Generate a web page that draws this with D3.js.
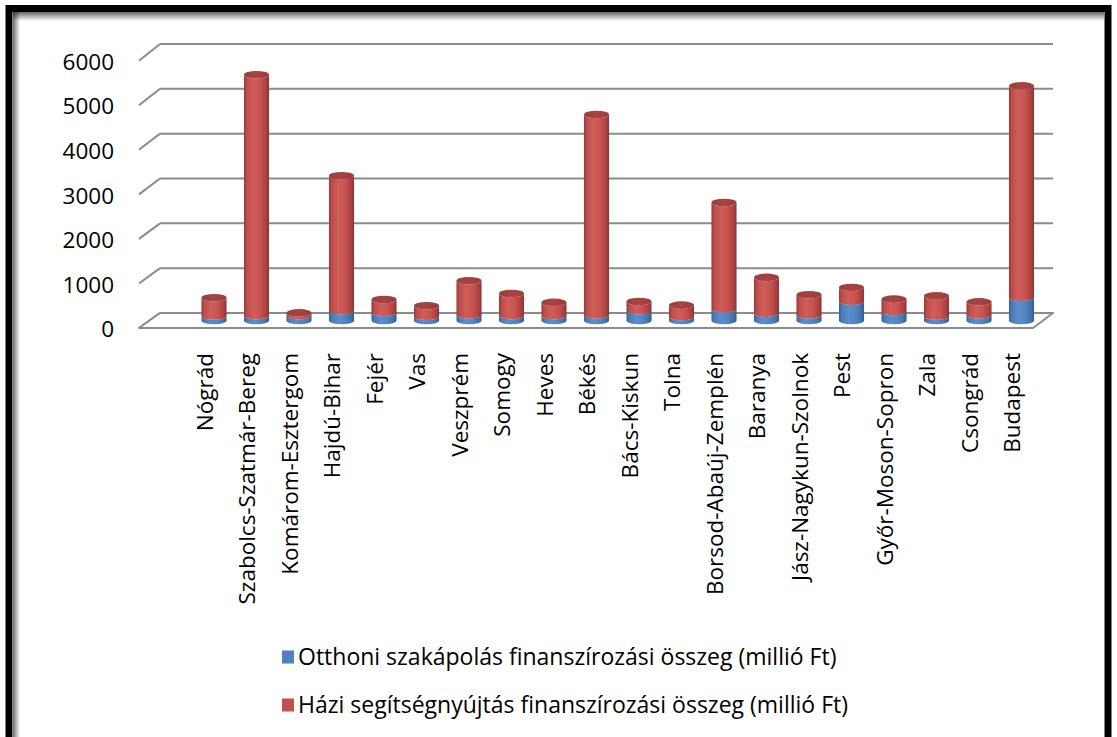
<!DOCTYPE html>
<html>
<head>
<meta charset="utf-8">
<script src="https://cdn.jsdelivr.net/npm/d3@7"></script>
<style>
  html, body { margin: 0; padding: 0; background: #fff; }
  svg { display: block; }
  text { font-family: "Open Sans", "DejaVu Sans", sans-serif; fill: #000; }
</style>
</head>
<body>
<svg id="chart" width="1117" height="737"></svg>
<script>
// Counties (megyék) and Budapest
const categories = [
  "Nógrád", "Szabolcs-Szatmár-Bereg", "Komárom-Esztergom", "Hajdú-Bihar", "Fejér",
  "Vas", "Veszprém", "Somogy", "Heves", "Békés", "Bács-Kiskun", "Tolna",
  "Borsod-Abaúj-Zemplén", "Baranya", "Jász-Nagykun-Szolnok", "Pest",
  "Győr-Moson-Sopron", "Zala", "Csongrád", "Budapest"
];

// Otthoni szakápolás (millió Ft)
const otthoniValues = [100, 110, 110, 220, 185, 95, 125, 110, 110, 125, 220, 90, 260, 165, 125, 430, 200, 97, 125, 520];

// Házi segítségnyújtás (millió Ft)
const haziValues = [410, 5390, 60, 3020, 285, 235, 765, 495, 295, 4485, 205, 255, 2380, 800, 450, 310, 278, 455, 293, 4730];

const seriesNames = [
  "Otthoni szakápolás finanszírozási összeg (millió Ft)",
  "Házi segítségnyújtás finanszírozási összeg (millió Ft)"
];

const yTicks = [0, 1000, 2000, 3000, 4000, 5000, 6000];

const svg = d3.select("#chart");
const defs = svg.append("defs");

// --- pseudo-3D geometry: back wall, mid depth (bars), front edge
const yBack  = d3.scaleLinear().domain([0, 6000]).range([313, 44]);
const yBar   = d3.scaleLinear().domain([0, 6000]).range([320.5, 52.4]);
const yFront = d3.scaleLinear().domain([0, 6000]).range([328, 60.7]);
const wallLeft = 160, wallRight = 1053, depthDx = -21;

const x = d3.scaleBand()
  .domain(categories)
  .range([192.75, 1042.75])
  .paddingInner(0.41)
  .paddingOuter(0.205);

const gridColor = "#8b8b8b";

// Cylinder shading
function cylGradient(id, stops) {
  const g = defs.append("linearGradient").attr("id", id)
    .attr("x1", "0%").attr("x2", "100%").attr("y1", "0%").attr("y2", "0%");
  stops.forEach(([o, c]) => g.append("stop").attr("offset", o).attr("stop-color", c));
}
cylGradient("redBody", [["0%", "#973937"], ["12%", "#bd4e4b"], ["38%", "#d05d5a"], ["65%", "#c8534f"], ["88%", "#ab4240"], ["100%", "#8a3331"]]);
cylGradient("blueBody", [["0%", "#3a6394"], ["12%", "#4c7cb8"], ["38%", "#5a8ecc"], ["65%", "#5186c3"], ["88%", "#4271a8"], ["100%", "#345a88"]]);
cylGradient("redCap", [["0%", "#93413f"], ["50%", "#a84341"], ["100%", "#9a3c3a"]]);

// Frame shadows
const shTop = defs.append("linearGradient").attr("id", "shTop")
  .attr("x1", "0").attr("x2", "0").attr("y1", "0").attr("y2", "1");
shTop.append("stop").attr("offset", "0%").attr("stop-color", "#000").attr("stop-opacity", 0.6);
shTop.append("stop").attr("offset", "100%").attr("stop-color", "#000").attr("stop-opacity", 0);
const shLeft = defs.append("linearGradient").attr("id", "shLeft")
  .attr("x1", "0").attr("x2", "1").attr("y1", "0").attr("y2", "0");
shLeft.append("stop").attr("offset", "0%").attr("stop-color", "#000").attr("stop-opacity", 0.55);
shLeft.append("stop").attr("offset", "100%").attr("stop-color", "#000").attr("stop-opacity", 0);

// --- back wall gridlines and side-wall diagonals
const grid = svg.append("g");
yTicks.forEach(t => {
  grid.append("line")
    .attr("x1", wallLeft).attr("x2", wallRight)
    .attr("y1", yBack(t)).attr("y2", yBack(t))
    .attr("stroke", gridColor).attr("stroke-width", 2);
  grid.append("line")
    .attr("x1", wallLeft).attr("y1", yBack(t))
    .attr("x2", wallLeft + depthDx).attr("y2", yFront(t))
    .attr("stroke", gridColor).attr("stroke-width", 2);
});

// --- floor
svg.append("path")
  .attr("d", `M${wallLeft},${yBack(0)} L${wallRight},${yBack(0)} L${wallRight + depthDx + 1},${yFront(0)} L${wallLeft + depthDx},${yFront(0)} Z`)
  .attr("fill", "#fff")
  .attr("stroke", gridColor).attr("stroke-width", 2).attr("stroke-linejoin", "round");

// --- stacked cylinders
const stackData = categories.map((c, i) => ({ cat: c, otthoni: otthoniValues[i], hazi: haziValues[i] }));
const stack = d3.stack().keys(["otthoni", "hazi"]);
const layers = stack(stackData);
const ry = 3.8;
const rx = x.bandwidth() / 2;

function segmentPath(x0, x1, yTop, yBot) {
  return `M${x0},${yTop} L${x0},${yBot} A${rx},${ry} 0 0 0 ${x1},${yBot} L${x1},${yTop} A${rx},${ry} 0 0 1 ${x0},${yTop} Z`;
}

const bars = svg.append("g");
categories.forEach((c, i) => {
  const x0 = x(c), x1 = x(c) + x.bandwidth();
  const g = bars.append("g");
  layers.forEach((layer, li) => {
    const [v0, v1] = layer[i];
    g.append("path")
      .attr("d", segmentPath(x0, x1, yBar(v1), yBar(v0)))
      .attr("fill", li === 0 ? "url(#blueBody)" : "url(#redBody)");
  });
  const top = layers[layers.length - 1][i][1];
  g.append("ellipse")
    .attr("cx", x0 + rx).attr("cy", yBar(top))
    .attr("rx", rx).attr("ry", ry)
    .attr("fill", "url(#redCap)");
});

// --- value axis labels
const yAxis = d3.axisLeft(yFront).tickValues(yTicks).tickSize(0).tickPadding(0).tickFormat(d3.format("d"));
svg.append("g")
  .attr("transform", "translate(114,1.5)")
  .call(yAxis)
  .call(g => g.select(".domain").remove())
  .call(g => g.selectAll("text")
    .attr("font-family", "Open Sans")
    .attr("font-size", 22.5)
    .attr("fill", "#000"));

// --- category labels (vertical)
svg.append("g").selectAll("text")
  .data(categories)
  .join("text")
  .attr("transform", d => `translate(${x(d) + x.bandwidth() / 2 - 1.5},353) rotate(-90)`)
  .attr("text-anchor", "end")
  .attr("font-size", 22.5)
  .text(d => d);

// --- legend
const legendColors = ["#4f81bd", "#c0504d"];
const legend = svg.append("g");
seriesNames.forEach((name, i) => {
  const cy = 657 + i * 48;
  legend.append("rect")
    .attr("x", 282).attr("y", cy - 6.5)
    .attr("width", 12).attr("height", 13)
    .attr("fill", legendColors[i]);
  legend.append("text")
    .attr("x", 298).attr("y", cy)
    .attr("dy", "0.36em")
    .attr("font-size", 23)
    .text(name);
});

// --- chart frame with inner shadow
svg.append("rect").attr("x", 13).attr("y", 12).attr("width", 1091).attr("height", 9).attr("fill", "url(#shTop)");
svg.append("rect").attr("x", 13).attr("y", 12).attr("width", 7).attr("height", 740).attr("fill", "url(#shLeft)");
svg.append("rect")
  .attr("x", 9).attr("y", 8.5)
  .attr("width", 1099).attr("height", 760)
  .attr("fill", "none")
  .attr("stroke", "#000").attr("stroke-width", 7);
</script>
</body>
</html>
